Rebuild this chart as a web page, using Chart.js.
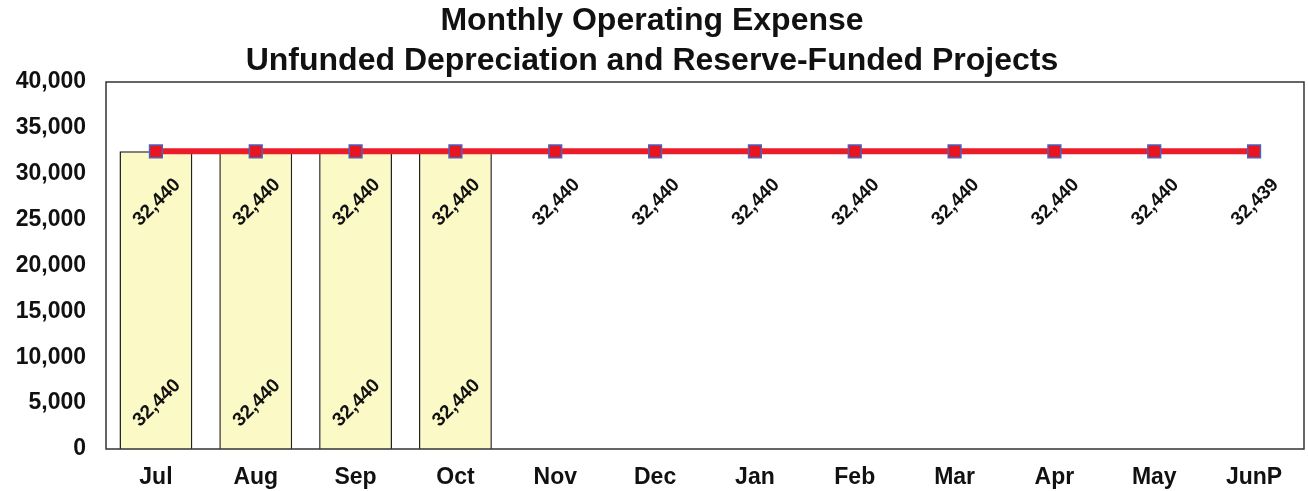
<!DOCTYPE html>
<html>
<head>
<meta charset="utf-8">
<script src="https://cdn.jsdelivr.net/npm/chart.js@4.4.1/dist/chart.umd.min.js"></script>
<style>
  html, body { margin: 0; padding: 0; background: #fff; }
  #wrap { width: 1308px; height: 491px; }
</style>
</head>
<body>
<div id="wrap"><canvas id="canvas"></canvas></div>
<script>
// chart data
const months = ['Jul', 'Aug', 'Sep', 'Oct', 'Nov', 'Dec', 'Jan', 'Feb', 'Mar', 'Apr', 'May', 'JunP'];
const actual = [32440, 32440, 32440, 32440, null, null, null, null, null, null, null, null];
const budget = [32440, 32440, 32440, 32440, 32440, 32440, 32440, 32440, 32440, 32440, 32440, 32439];
const yTicks = [0, 5000, 10000, 15000, 20000, 25000, 30000, 35000, 40000];

const fontFamily = "Arial, 'Liberation Sans', Helvetica, sans-serif";

// draws the box around the plot and the rotated value labels
const labelPlugin = {
    id: 'labels',
    afterDatasetsDraw(chart) {
        const ctx = chart.ctx;
        const area = chart.chartArea;
        ctx.save();
        ctx.strokeStyle = '#333';
        ctx.lineWidth = 1.5;
        ctx.strokeRect(area.left, area.top, area.right - area.left, area.bottom - area.top);

        ctx.fillStyle = '#111';
        ctx.font = 'bold 19px ' + fontFamily;
        ctx.textAlign = 'center';
        ctx.textBaseline = 'middle';

        const fmt = v => v.toLocaleString('en-US');
        const drawRot = (text, x, y) => {
            ctx.save();
            ctx.translate(x, y);
            ctx.rotate(-Math.PI / 4);
            ctx.fillText(text, 0, 0);
            ctx.restore();
        };

        // bar labels at the base
        chart.getDatasetMeta(0).data.forEach((el, i) => {
            if (actual[i] == null) return;
            drawRot(fmt(actual[i]), el.x + 1, el.base - 46);
        });
        // line labels below the points
        chart.getDatasetMeta(1).data.forEach((el, i) => {
            drawRot(fmt(budget[i]), el.x + 1, el.y + 51);
        });
        ctx.restore();
    }
};

createChart();

function createChart() {

    var ctx = document.getElementById('canvas').getContext('2d');

    var chart = new Chart(ctx, {
        type: 'bar',
        data: {
            labels: months,
            datasets: [
                {
                    label: 'Actual',
                    data: actual,
                    backgroundColor: '#fbfac6',
                    borderColor: '#222',
                    borderWidth: 1.5,
                    barPercentage: 0.73,
                    categoryPercentage: 1.0,
                    order: 2
                },
                {
                    label: 'Budget',
                    type: 'line',
                    data: budget,
                    borderColor: '#ea1d29',
                    borderWidth: 6,
                    pointStyle: 'rect',
                    pointRadius: 9,
                    pointBackgroundColor: '#e8141e',
                    pointBorderColor: '#4b62c4',
                    pointBorderWidth: 1.5,
                    order: 1
                }
            ]
        },
        options: {
            responsive: true,
            maintainAspectRatio: false,
            animation: false,
            layout: { autoPadding: false, padding: { left: 0, right: 4, top: 0, bottom: 0 } },
            plugins: {
                legend: { display: false },
                tooltip: { enabled: false },
                title: {
                    display: true,
                    text: ['Monthly Operating Expense', 'Unfunded Depreciation and Reserve-Funded Projects'],
                    color: '#111',
                    font: { family: fontFamily, size: 32, weight: 'bold', lineHeight: 1.25 },
                    padding: { top: 1, bottom: 1 }
                }
            },
            scales: {
                x: {
                    afterFit: s => { s.height = 42; s.paddingRight = 0; s.paddingLeft = 0; },
                    grid: { display: false, drawTicks: false },
                    border: { display: false },
                    ticks: {
                        color: '#111',
                        padding: 15,
                        font: { family: fontFamily, size: 23, weight: 'bold' }
                    }
                },
                y: {
                    min: 0,
                    max: 40000,
                    afterFit: s => { s.width = 106; },
                    afterBuildTicks: s => { s.ticks = yTicks.map(v => ({ value: v })); },
                    grid: { display: false, drawTicks: false },
                    border: { display: false },
                    ticks: {
                        color: '#111',
                        padding: 20,
                        font: { family: fontFamily, size: 23, weight: 'bold' },
                        callback: v => v.toLocaleString('en-US')
                    }
                }
            }
        },
        plugins: [labelPlugin]
    });
}
</script>
</body>
</html>
